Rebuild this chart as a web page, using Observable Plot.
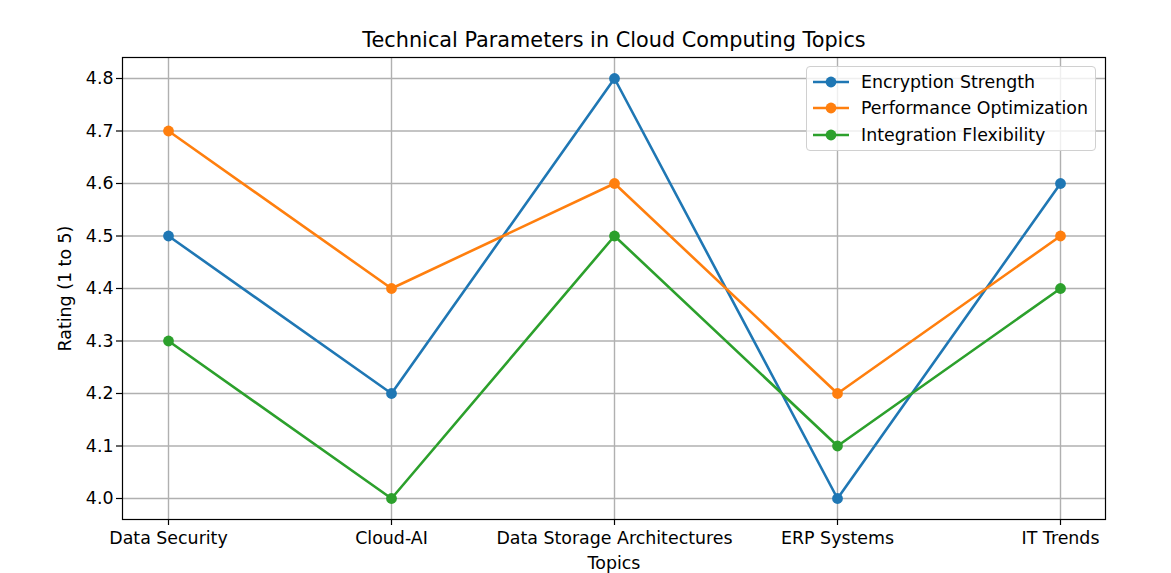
<!DOCTYPE html>
<html>
<head>
<meta charset="utf-8">
<script src="https://cdn.jsdelivr.net/npm/d3@7"></script>
<script src="https://cdn.jsdelivr.net/npm/@observablehq/plot@0.6"></script>
<style>
  html, body { margin: 0; padding: 0; background: #fff; }
  #wrap { position: relative; width: 1171px; height: 573px; font-family: "DejaVu Sans", sans-serif; }
  #legend { position: absolute; left: 806px; top: 66px; width: 290px; height: 85px;
    border: 1px solid #d0d0d0; border-radius: 4px; background: rgba(255,255,255,0.8);
    box-sizing: border-box; font-size: 17.4px; color: #000; }
  .row { position: absolute; left: 0; height: 20px; display: flex; align-items: center; }
  .row svg { margin-left: 5px; }
  .row span { margin-left: 11px; white-space: nowrap; }
</style>
</head>
<body>
<div id="wrap"></div>
<script>
const topics = ["Data Security", "Cloud-AI", "Data Storage Architectures", "ERP Systems", "IT Trends"];
const seriesNames = ["Encryption Strength", "Performance Optimization", "Integration Flexibility"];
const encryptionStrength = [4.5, 4.2, 4.8, 4.0, 4.6];
const performanceOptimization = [4.7, 4.4, 4.6, 4.2, 4.5];
const integrationFlexibility = [4.3, 4.0, 4.5, 4.1, 4.4];
const colors = ["#1f77b4", "#ff7f0e", "#2ca02c"];
const yTicks = [4.0, 4.1, 4.2, 4.3, 4.4, 4.5, 4.6, 4.7, 4.8];

const seriesValues = [encryptionStrength, performanceOptimization, integrationFlexibility];
const data = seriesNames.flatMap((s, i) => topics.map((t, j) => ({series: s, topic: t, value: seriesValues[i][j]})));

const font = "DejaVu Sans, sans-serif";
const plot = Plot.plot({
  width: 1171,
  height: 573,
  marginLeft: 122,
  marginRight: 66,
  marginTop: 57,
  marginBottom: 54,
  style: {fontFamily: font, fontSize: "17.4px", color: "#000", background: "#fff", overflow: "visible"},
  x: {type: "point", domain: topics, padding: 0.2},
  y: {domain: [3.96, 4.84]},
  color: {domain: seriesNames, range: colors},
  marks: [
    Plot.gridX(topics, {stroke: "#b0b0b0", strokeOpacity: 1, strokeWidth: 1.4}),
    Plot.gridY(yTicks, {stroke: "#b0b0b0", strokeOpacity: 1, strokeWidth: 1.4}),
    Plot.axisX(topics, {tickSize: 6, tickPadding: 6, stroke: "#000", strokeWidth: 1.2, fontSize: 17.4,
      label: "Topics", labelAnchor: "center", labelArrow: "none", labelOffset: 49}),
    Plot.axisY(yTicks, {tickSize: 6, tickPadding: 3, stroke: "#000", strokeWidth: 1.2, fontSize: 17.4,
      tickFormat: d3.format(".1f"), label: "Rating (1 to 5)", labelAnchor: "center", labelArrow: "none", labelOffset: 64}),
    Plot.line(data, {x: "topic", y: "value", z: "series", stroke: "series", strokeWidth: 2.6}),
    Plot.dot(data, {x: "topic", y: "value", fill: "series", r: 5.4}),
    Plot.frame({stroke: "#000", strokeWidth: 1.2}),
    Plot.text(["Technical Parameters in Cloud Computing Topics"], {frameAnchor: "top", lineAnchor: "bottom", dy: -11, fontSize: 20.8, fill: "#000"})
  ]
});
const wrap = document.getElementById("wrap");
wrap.appendChild(plot);

const legend = document.createElement("div");
legend.id = "legend";
seriesNames.forEach((s, i) => {
  const row = document.createElement("div");
  row.className = "row";
  row.style.top = (4.5 + i * 26.5) + "px";
  row.innerHTML = `<svg width="38" height="14"><line x1="1" x2="37" y1="7" y2="7" stroke="${colors[i]}" stroke-width="2.6"/><circle cx="19" cy="7" r="5.4" fill="${colors[i]}"/></svg><span>${s}</span>`;
  legend.appendChild(row);
});
wrap.appendChild(legend);
</script>
</body>
</html>
